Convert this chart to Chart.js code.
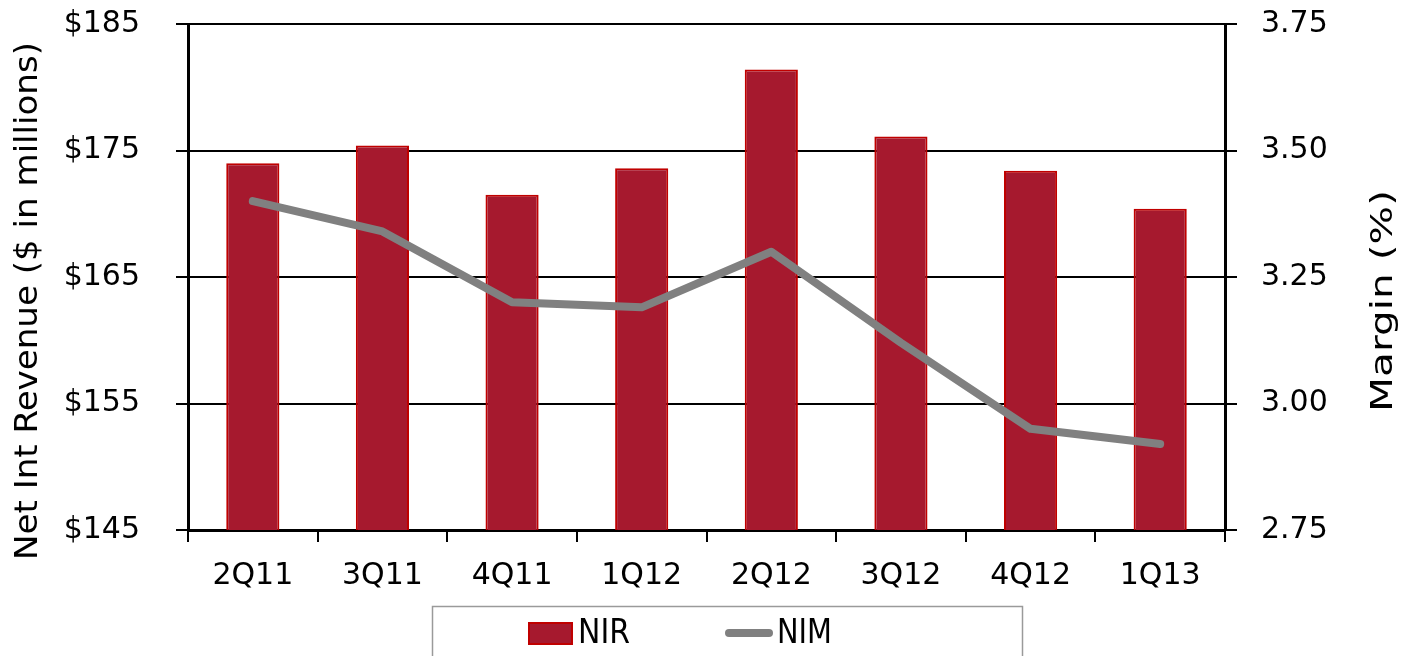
<!DOCTYPE html>
<html>
<head>
<meta charset="utf-8">
<script src="https://cdn.jsdelivr.net/npm/chart.js@4.4.1/dist/chart.umd.min.js"></script>
<style>
  html, body { margin: 0; padding: 0; background: #fff; }
  #wrap { width: 1406px; height: 656px; position: relative; }
</style>
</head>
<body>
<div id="wrap"><canvas id="nirChart"></canvas></div>
<script>
// data
const quarters = ["2Q11", "3Q11", "4Q11", "1Q12", "2Q12", "3Q12", "4Q12", "1Q13"];
const nirValues = [174.0, 175.4, 171.5, 173.6, 181.4, 176.1, 173.4, 170.4];
const nimValues = [3.40, 3.34, 3.20, 3.19, 3.30, 3.12, 2.95, 2.92];

const FONT = "'DejaVu Sans', 'Liberation Sans', sans-serif";
const BAR_FILL = "#A6192E";
const BAR_EDGE = "#C00000";
const LINE_GREY = "#808080";

// draw text squeezed/stretched to a given length
function fitText(ctx, text, x, y, len, size, rot, align) {
  ctx.save();
  ctx.translate(x, y);
  ctx.rotate(rot);
  ctx.font = size + "px " + FONT;
  const w = ctx.measureText(text).width;
  ctx.scale(len / w, 1);
  ctx.textAlign = align || "center";
  ctx.textBaseline = "middle";
  ctx.fillStyle = "#000";
  ctx.fillText(text, 0, 0);
  ctx.restore();
}

// fixed side widths, and no extra top/bottom room from tick padding
function fixVertical(width) {
  return function (scale) {
    scale.width = width;
    scale.paddingTop = 0;
    scale.paddingBottom = 0;
  };
}

// axis titles + boxed legend
const extrasPlugin = {
  id: "extras",
  afterDraw(chart) {
    const ctx = chart.ctx;
    fitText(ctx, "Net Int Revenue ($ in millions)", 29, 301, 518, 32, -Math.PI / 2);
    fitText(ctx, "Margin (%)", 1384, 301, 222, 31, -Math.PI / 2);

    ctx.save();
    ctx.strokeStyle = "#9a9a9a";
    ctx.lineWidth = 1.5;
    ctx.strokeRect(432.5, 606.5, 590, 60);

    ctx.fillStyle = BAR_FILL;
    ctx.fillRect(528, 622, 45, 23);
    ctx.strokeStyle = BAR_EDGE;
    ctx.lineWidth = 2;
    ctx.strokeRect(529, 623, 43, 21);

    ctx.strokeStyle = LINE_GREY;
    ctx.lineWidth = 8;
    ctx.lineCap = "round";
    ctx.beginPath();
    ctx.moveTo(729, 633);
    ctx.lineTo(769, 633);
    ctx.stroke();
    ctx.restore();

    fitText(ctx, "NIR", 578, 634, 52, 34, 0, "left");
    fitText(ctx, "NIM", 777, 634, 55, 34, 0, "left");
  }
};

const ctx = document.getElementById("nirChart").getContext("2d");
new Chart(ctx, {
  data: {
    labels: quarters,
    datasets: [
      {
        type: "line",
        label: "NIM",
        data: nimValues,
        yAxisID: "y1",
        borderColor: LINE_GREY,
        borderWidth: 8,
        borderCapStyle: "round",
        borderJoinStyle: "round",
        pointRadius: 0,
        tension: 0,
        order: 0,
      },
      {
        type: "bar",
        label: "NIR",
        data: nirValues,
        yAxisID: "y",
        backgroundColor: BAR_FILL,
        borderColor: BAR_EDGE,
        borderWidth: 2,
        borderSkipped: false,
        categoryPercentage: 1,
        barPercentage: 0.41,
        order: 1,
      },
    ],
  },
  options: {
    responsive: true,
    maintainAspectRatio: false,
    animation: false,
    layout: { padding: { top: 24, left: 0, right: 0, bottom: 0 } },
    plugins: {
      legend: { display: false },
      tooltip: { enabled: false },
    },
    scales: {
      x: {
        afterFit(scale) { scale.height = 126; },
        grid: {
          offset: true,
          drawOnChartArea: false,
          color: "#000",
          lineWidth: 2,
          tickLength: 12,
        },
        border: { color: "#000", width: 3 },
        ticks: {
          color: "#000",
          font: { family: FONT, size: 30 },
          padding: 16,
        },
      },
      y: {
        position: "left",
        min: 145,
        max: 185,
        afterFit: fixVertical(188),
        grid: {
          color: "#000",
          lineWidth: 2,
          tickLength: 12,
        },
        border: { color: "#000", width: 3 },
        ticks: {
          stepSize: 10,
          color: "#000",
          font: { family: FONT, size: 30 },
          padding: 36,
          callback: (v) => "$" + v,
        },
      },
      y1: {
        position: "right",
        min: 2.75,
        max: 3.75,
        afterFit: fixVertical(181),
        grid: {
          drawOnChartArea: false,
          color: "#000",
          lineWidth: 2,
          tickLength: 12,
        },
        border: { color: "#000", width: 3 },
        ticks: {
          stepSize: 0.25,
          color: "#000",
          font: { family: FONT, size: 30 },
          padding: 24,
          callback: (v) => v.toFixed(2),
        },
      },
    },
  },
  plugins: [extrasPlugin],
});
</script>
</body>
</html>
